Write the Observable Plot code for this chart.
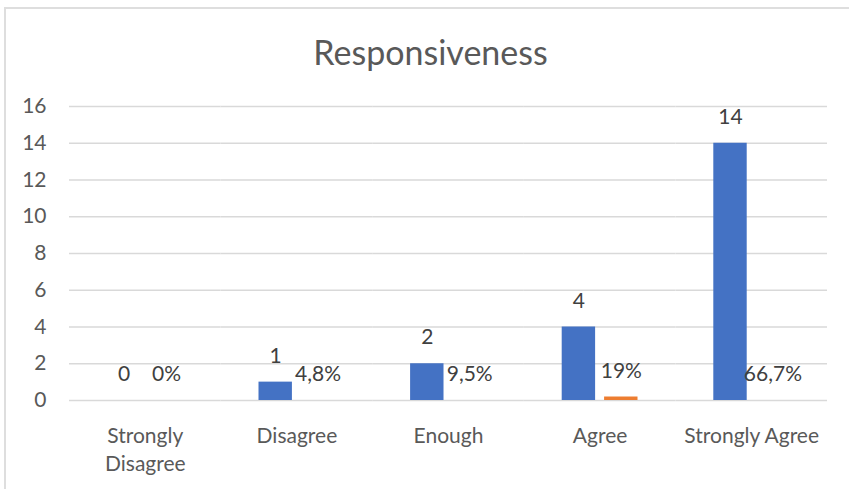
<!DOCTYPE html>
<html>
<head>
<meta charset="utf-8">
<script src="https://cdn.jsdelivr.net/npm/d3@7"></script>
<script src="https://cdn.jsdelivr.net/npm/@observablehq/plot@0.6"></script>
<style>
  html, body { margin: 0; padding: 0; background: #fff; }
  #chart { position: relative; width: 849px; height: 489px; overflow: hidden; font-family: Lato, sans-serif; }
  #frame { position: absolute; left: 4px; top: 7px; width: 900px; height: 600px; border: 2px solid #dedede; box-sizing: border-box; }
  #title { position: absolute; left: 0; width: 861px; top: 35px; text-align: center; font-size: 34px; line-height: 1; color: #595959; }
  #plot { position: absolute; left: 0; top: 0; }
</style>
</head>
<body>
<div id="chart">
  <div id="frame"></div>
  <div id="title">Responsiveness</div>
  <div id="plot"></div>
</div>
<script>
// Survey answers for the "Responsiveness" item
const categories = ["Strongly Disagree", "Disagree", "Enough", "Agree", "Strongly Agree"];
const tickLabels = ["Strongly\nDisagree", "Disagree", "Enough", "Agree", "Strongly Agree"];
const counts = [0, 1, 2, 4, 14];
// share series, plotted on the same count axis
const shareValues = [0, 0, 0, 0.19, 0];
const shareLabels = ["0%", "4,8%", "9,5%", "19%", "66,7%"];
const yTicks = [0, 2, 4, 6, 8, 10, 12, 14, 16];

const rows = categories.flatMap((c, i) => [
  { category: c, series: "count", value: counts[i], label: String(counts[i]) },
  { category: c, series: "share", value: shareValues[i], label: shareLabels[i] }
]);

const chart = Plot.plot({
  width: 849,
  height: 489,
  marginLeft: 69,
  marginRight: 22,
  marginTop: 106,
  marginBottom: 89,
  style: { fontFamily: "Lato, sans-serif", background: "transparent", color: "#595959" },
  fx: { domain: categories, padding: 0, round: false, label: null },
  x: { domain: ["count", "share"], paddingInner: 0.212, paddingOuter: 0.894, round: false, axis: null },
  y: { domain: [0, 16], label: null },
  color: { domain: ["count", "share"], range: ["#4472C4", "#ED7D31"] },
  marks: [
    Plot.ruleY(yTicks, { stroke: "#d9d9d9", strokeWidth: 1.5 }),
    Plot.axisY({ ticks: yTicks, tickSize: 0, tickPadding: 23, fontSize: 21, label: null }),
    Plot.axisFx({
      anchor: "bottom",
      tickSize: 0,
      tickPadding: 23,
      fontSize: 21,
      lineHeight: 1.33,
      label: null,
      tickFormat: (d) => tickLabels[categories.indexOf(d)]
    }),
    Plot.barY(rows, { fx: "category", x: "series", y: "value", fill: "series" }),
    Plot.text(rows, { fx: "category", x: "series", y: "value", text: "label", dy: -26, fontSize: 21, fill: "#404040" })
  ]
});

document.getElementById("plot").appendChild(chart);
</script>
</body>
</html>
